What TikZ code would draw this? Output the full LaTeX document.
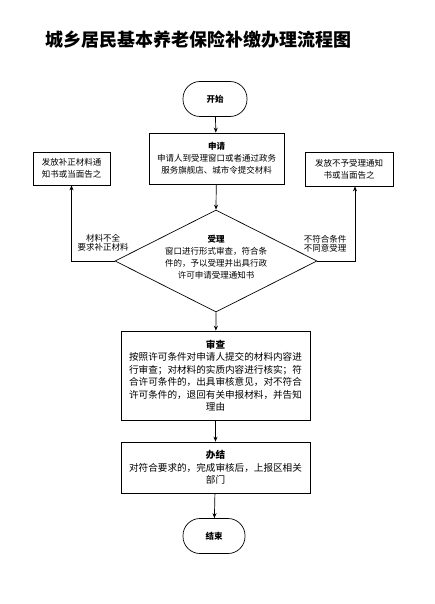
\documentclass[tikz,border=0pt]{standalone}
\usepackage{fontspec}
\setmainfont{Noto Sans CJK SC}
\usetikzlibrary{shapes.geometric,arrows.meta}
\begin{document}
\begin{tikzpicture}[x=1pt,y=-1pt,line width=0.7pt,>={Stealth[length=5pt,width=4pt]},
    terminal/.style={draw,rounded corners=17pt,minimum width=64pt,minimum height=35pt,font=\fontsize{8.5}{10}\selectfont\bfseries},
    stepbox/.style={draw,align=center,inner sep=2pt,font=\fontsize{8.5}{12}\selectfont},
    widebox/.style={draw,align=center,inner sep=2pt,minimum width=189pt,font=\fontsize{9.6}{12.5}\selectfont},
    note/.style={align=center,font=\fontsize{8.5}{9}\selectfont}]
  \useasboundingbox (0,0) rectangle (435,604);
  \node[font=\fontsize{18}{20}\selectfont\bfseries] (title) at (198,40) {城乡居民基本养老保险补缴办理流程图};
  % 主流程
  \node[terminal] (start) at (215,99) {开始};
  \node[stepbox,minimum width=135pt,minimum height=51pt] (apply) at (216.5,158.5)
    {\textbf{申请}\\申请人到受理窗口或者通过政务\\服务旗舰店、城市令提交材料};
  \node[draw,diamond,minimum width=202pt,minimum height=102pt,inner sep=0pt] (accept) at (216,261) {};
  \node[note,font=\fontsize{8.5}{12}\selectfont] (accepttext) at (216,257)
    {\textbf{受理}\\窗口进行形式审查，符合条\\件的，予以受理并出具行政\\许可申请受理通知书};
  \node[widebox,minimum height=89pt] (review) at (215.5,375.5)
    {\textbf{审查}\\按照许可条件对申请人提交的材料内容进\\行审查；对材料的实质内容进行核实；符\\合许可条件的，出具审核意见，对不符合\\许可条件的，退回有关申报材料，并告知\\理由};
  \node[widebox,minimum height=51pt] (finish) at (215.5,467.5)
    {\textbf{办结}\\对符合要求的，完成审核后，上报区相关\\部门};
  \node[terminal,minimum width=62pt] (stop) at (214,536) {结束};
  % 两侧的通知
  \node[stepbox,minimum width=77pt,minimum height=33pt] (supply) at (71.5,168.5) {发放补正材料通\\知书或当面告之};
  \node[stepbox,minimum width=88pt,minimum height=34pt] (reject) at (349,169) {发放不予受理通知\\书或当面告之};
  \draw[->] (start) -- (apply);
  \draw[->] (apply) -- (accept.north);
  \draw[->] (accept.south) -- (review);
  \draw[->] (review) -- (finish);
  \draw[->] (finish) -- (stop);
  \draw[->] (accept.west) -| (supply.south);
  \draw[->] (accept.east) -| ([xshift=6pt]reject.south);
  \node[note] (lack) at (103,243) {材料不全\\要求补正材料};
  \node[note] (refuse) at (325,244) {不符合条件\\不同意受理};
\end{tikzpicture}
\end{document}
